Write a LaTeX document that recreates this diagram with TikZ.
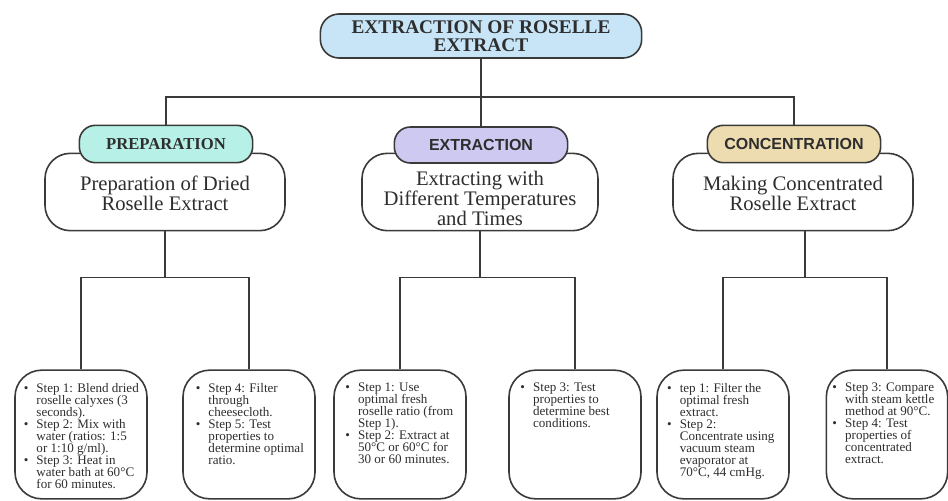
\documentclass[tikz,border=0pt]{standalone}
\usepackage{fontspec}
\setmainfont{Liberation Serif}
\newfontfamily\tagsf{Liberation Sans}
\usepackage{tikz}
\usetikzlibrary{positioning,calc}
\definecolor{cline}{HTML}{3A3A3A}
\definecolor{ctxt}{HTML}{2E2E2E}
\definecolor{ctop}{HTML}{C7E5F7}
\definecolor{cprep}{HTML}{B6F0E6}
\definecolor{cext}{HTML}{CDC9F1}
\definecolor{cconc}{HTML}{EDDCAF}
\newcommand{\bul}{\makebox[9.5pt][l]{\textbullet}}
\newcommand{\ind}{\hspace*{9.5pt}}
\tikzset{
  topbox/.style={rectangle, rounded corners=14pt, draw=cline, fill=ctop, line width=1.2pt,
                 minimum width=241pt, minimum height=33pt, align=center, text=ctxt,
                 inner ysep=1pt, font=\fontsize{14.5}{13.5}\selectfont\bfseries},
  tagbox/.style={rectangle, rounded corners=12pt, draw=cline, line width=1.2pt,
                 minimum width=130pt, minimum height=28pt, align=center, text=ctxt},
  midbox/.style={rectangle, rounded corners=19pt, draw=cline, fill=white, line width=1.2pt,
                 minimum width=180pt, minimum height=58pt},
  midtext/.style={align=center, text=ctxt, inner sep=0pt, font=\fontsize{15.5}{15}\selectfont},
  stepbox/.style={rectangle, rounded corners=20pt, draw=cline, line width=1.2pt,
                  minimum width=99pt, minimum height=96.5pt},
  stepnote/.style={anchor=north west, inner sep=0pt, align=left, text=ctxt,
                   font=\fontsize{9.8}{9}\selectfont},
  link/.style={draw=cline, line width=1.2pt}
}
\begin{document}
\begin{tikzpicture}[x=0.75pt, y=-0.75pt]
\useasboundingbox (0,0) rectangle (948,500);
% top
\node[topbox] (top) at (481,36) {EXTRACTION OF ROSELLE\\EXTRACT};
% stages
\node[midbox] (pm) at (165,192) {};
\node[midbox, minimum width=177pt] (em) at (480,192) {};
\node[midbox] (cm) at (793,192) {};
\node[midtext] (pmt) at ([yshift=-1pt]pm.center) {Preparation of Dried\\Roselle Extract};
\node[midtext] (emt) at ([yshift=-5pt]em.center) {Extracting with\\Different Temperatures\\and Times};
\node[midtext] (cmt) at ([yshift=-1pt]cm.center) {Making Concentrated\\Roselle Extract};
\node[tagbox, fill=cprep, font=\fontsize{12.5}{12}\selectfont\bfseries] (pt) at (166,144) {PREPARATION};
\node[tagbox, fill=cext, minimum height=27pt, font=\tagsf\fontsize{12}{12}\selectfont\bfseries] (et) at (481,145) {EXTRACTION};
\node[tagbox, fill=cconc, font=\tagsf\fontsize{12}{12}\selectfont\bfseries] (ct) at (794,144) {CONCENTRATION};
% steps
\node[stepbox] (p1) at (81,434.5) {};
\node[stepbox] (p2) at (249,434.5) {};
\node[stepbox] (e1) at (400,434.5) {};
\node[stepbox] (e2) at (575,434.5) {};
\node[stepbox] (c1) at (723,434.5) {};
\node[stepbox, minimum width=91pt] (c2) at (887,434.5) {};
\node[stepnote] (p1t) at ([xshift=7pt,yshift=-10pt]p1.north west)
  {\bul Step 1: Blend dried\\\ind roselle calyxes (3\\\ind seconds).\\
   \bul Step 2: Mix with\\\ind water (ratios: 1:5\\\ind or 1:10 g/ml).\\
   \bul Step 3: Heat in\\\ind water bath at 60°C\\\ind for 60 minutes.};
\node[stepnote] (p2t) at ([xshift=10pt,yshift=-10pt]p2.north west)
  {\bul Step 4: Filter\\\ind through\\\ind cheesecloth.\\
   \bul Step 5: Test\\\ind properties to\\\ind determine optimal\\\ind ratio.};
\node[stepnote] (e1t) at ([xshift=9pt,yshift=-10pt]e1.north west)
  {\bul Step 1: Use\\\ind optimal fresh\\\ind roselle ratio (from\\\ind Step 1).\\
   \bul Step 2: Extract at\\\ind 50°C or 60°C for\\\ind 30 or 60 minutes.};
\node[stepnote] (e2t) at ([xshift=9pt,yshift=-10pt]e2.north west)
  {\bul Step 3: Test\\\ind properties to\\\ind determine best\\\ind conditions.};
\node[stepnote] (c1t) at ([xshift=8pt,yshift=-10pt]c1.north west)
  {\bul tep 1: Filter the\\\ind optimal fresh\\\ind extract.\\
   \bul Step 2:\\\ind Concentrate using\\\ind vacuum steam\\\ind evaporator at\\\ind 70°C, 44 cmHg.};
\node[stepnote] (c2t) at ([xshift=5pt,yshift=-10pt]c2.north west)
  {\bul Step 3: Compare\\\ind with steam kettle\\\ind method at 90°C.\\
   \bul Step 4: Test\\\ind properties of\\\ind concentrated\\\ind extract.};
% connectors
\coordinate (tj) at (481,97);
\draw[link] (top) -- (tj);
\draw[link] (pt.north) |- (tj) -| (ct.north);
\draw[link] (tj) -- (et.north);
\draw[link] (pm.south) -- ++(0,46) coordinate (pj);
\draw[link] (p1.north) |- (pj) -| (p2.north);
\draw[link] (em.south) -- ++(0,46) coordinate (ej);
\draw[link] (e1.north) |- (ej) -| (e2.north);
\path (c1.north) -- (c2.north) coordinate[pos=.5] (cmid);
\coordinate (cj) at (cmid |- pj);
\draw[link] (cm.south -| cj) -- (cj);
\draw[link] (c1.north) |- (cj) -| (c2.north);
\end{tikzpicture}
\end{document}
